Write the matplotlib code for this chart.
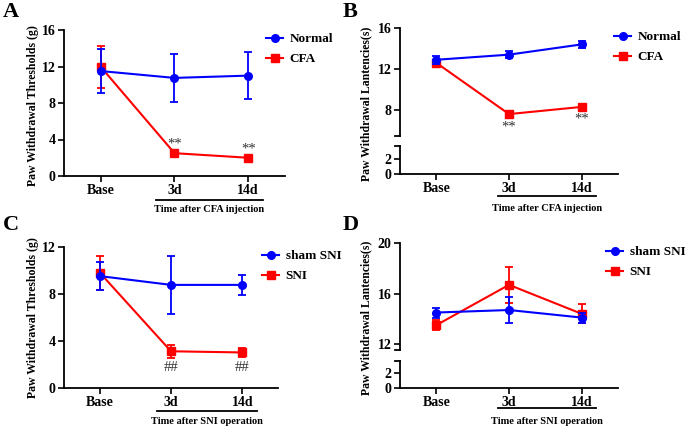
import matplotlib
matplotlib.use('Agg')
import matplotlib.pyplot as plt
import matplotlib.transforms as mtransforms

plt.rcParams['font.family'] = ['Liberation Serif', 'DejaVu Serif']
plt.rcParams['font.weight'] = 'bold'
plt.rcParams['axes.linewidth'] = 1.3

# x categories
time_labels = ['Base', '3d', '14d']
x = [0, 1, 2]

# A: mechanical thresholds, CFA model
a_normal = [11.5, 10.75, 11.0]
a_normal_err = [2.4, 2.65, 2.6]
a_cfa = [11.95, 2.5, 2.0]
a_cfa_err = [2.3, 0.2, 0.15]
a_marks = ['', '**', '**']
a_mark_y = [0, 3.55, 3.0]

# B: thermal latencies, CFA model
b_normal = [12.9, 13.4, 14.4]
b_normal_err = [0.4, 0.35, 0.35]
b_cfa = [12.6, 7.6, 8.3]
b_cfa_err = [0.2, 0.12, 0.15]
b_marks = ['', '**', '**']
b_mark_y = [0, 6.3, 7.1]

# C: mechanical thresholds, SNI model
c_sham = [9.5, 8.75, 8.75]
c_sham_err = [1.2, 2.5, 0.85]
c_sni = [9.8, 3.1, 3.0]
c_sni_err = [1.45, 0.55, 0.35]
c_marks = ['', '##', '##']
c_mark_y = [0, 1.75, 1.75]

# D: thermal latencies, SNI model
d_sham = [14.5, 14.7, 14.1]
d_sham_err = [0.4, 1.0, 0.4]
d_sni = [13.5, 16.7, 14.4]
d_sni_err = [0.4, 1.45, 0.75]

W, H = 685, 428
fig = plt.figure(figsize=(W / 100, H / 100), dpi=100)


def box(l, t, r, b):
    return [l / W, 1 - b / H, (r - l) / W, (b - t) / H]


def style(ax, bottom=True):
    ax.spines['top'].set_visible(False)
    ax.spines['right'].set_visible(False)
    ax.tick_params(axis='both', direction='out', length=4, width=1.2,
                   labelsize=10, pad=2)
    ax.set_xlim(-0.5, 2.5)
    if bottom:
        ax.set_xticks(x)
        ax.set_xticklabels(time_labels, fontsize=10, fontweight='bold')
    else:
        ax.spines['bottom'].set_visible(False)
        ax.set_xticks([])
    for lab in ax.get_yticklabels():
        lab.set_fontweight('bold')


def draw(ax, y1, e1, y2, e2):
    red = ax.errorbar(x, y2, yerr=e2, color='#ff0000', marker='s', ms=5.5,
                      lw=1.5, capsize=3, elinewidth=1.3, capthick=1.3,
                      zorder=3, clip_on=False)
    blue = ax.errorbar(x, y1, yerr=e1, color='#0000ff', marker='o', ms=5.5,
                       lw=1.5, capsize=3, elinewidth=1.3, capthick=1.3,
                       zorder=4, clip_on=False)
    return blue, red


def legend(ax, handles, names, left, top):
    ax.legend([h[0] for h in handles], names, loc='upper left',
              bbox_to_anchor=(left / W, 1 - top / H),
              bbox_transform=fig.transFigure, frameon=False,
              borderaxespad=0, borderpad=0, handlelength=1.3,
              handletextpad=0.5, labelspacing=0.6,
              prop={'weight': 'bold', 'size': 9.5})


def xnote(ax, text, x0, x1, y_line, y_text):
    tr = mtransforms.blended_transform_factory(ax.transData, fig.transFigure)
    ax.plot([x0, x1], [1 - y_line / H] * 2, color='black', lw=1.3,
            transform=tr, clip_on=False)
    ax.text((x0 + x1) / 2, 1 - y_text / H, text, transform=tr,
            ha='center', va='center', fontsize=7.5, fontweight='bold')


def ylabel(text, xp, yp):
    fig.text(xp / W, 1 - yp / H, text, rotation=90, ha='center',
             va='center', fontsize=8.5, fontweight='bold')


def marks(ax, labels, ys):
    for xi, lab, yi in zip(x, labels, ys):
        if lab:
            ax.text(xi, yi, lab, ha='center', va='center', fontsize=10.5,
                    fontweight='normal', color='#333333')


def break_marks(upper, lower):
    upper.plot([-0.022, 0], [0, 0], color='black', lw=1.3,
               transform=upper.transAxes, clip_on=False)
    lower.plot([-0.022, 0], [1, 1], color='black', lw=1.3,
               transform=lower.transAxes, clip_on=False)


# ---- A ----
axA = fig.add_axes(box(64, 30, 285, 176))
style(axA)
axA.set_ylim(0, 16)
axA.set_yticks([0, 4, 8, 12, 16])
hA = draw(axA, a_normal, a_normal_err, a_cfa, a_cfa_err)
marks(axA, a_marks, a_mark_y)
legend(axA, hA, ['Normal', 'CFA'], 266, 33)
xnote(axA, 'Time after CFA injection', 0.75, 2.2, 199.5, 209)
ylabel('Paw Withdrawal Thresholds (g)', 33, 106)
fig.text(3 / W, 1 - 12 / H, 'A', fontsize=16, fontweight='bold', va='center')

# ---- B ----
axBu = fig.add_axes(box(400, 28, 618, 135.6))
axBl = fig.add_axes(box(400, 146, 618, 173.7))
style(axBu, bottom=False)
style(axBl)
axBu.set_ylim(5.5, 16)
axBu.set_yticks([8, 12, 16])
axBl.set_ylim(0, 3.75)
axBl.set_yticks([0, 2])
hB = draw(axBu, b_normal, b_normal_err, b_cfa, b_cfa_err)
marks(axBu, b_marks, b_mark_y)
break_marks(axBu, axBl)
legend(axBu, hB, ['Normal', 'CFA'], 614, 31)
xnote(axBl, 'Time after CFA injection', 0.85, 2.2, 195.7, 208)
ylabel('Paw Withdrawal Lantencies(s)', 366, 104)
fig.text(343 / W, 1 - 12 / H, 'B', fontsize=16, fontweight='bold', va='center')

# ---- C ----
axC = fig.add_axes(box(64, 246.7, 278, 387.7))
style(axC)
axC.set_ylim(0, 12)
axC.set_yticks([0, 4, 8, 12])
hC = draw(axC, c_sham, c_sham_err, c_sni, c_sni_err)
marks(axC, c_marks, c_mark_y)
legend(axC, hC, ['sham SNI', 'SNI'], 262, 250)
xnote(axC, 'Time after SNI operation', 0.8, 2.2, 411, 422)
ylabel('Paw Withdrawal Thresholds (g)', 33, 318)
fig.text(3 / W, 1 - 225 / H, 'C', fontsize=16, fontweight='bold', va='center')

# ---- D ----
axDu = fig.add_axes(box(400, 243.3, 618, 350.3))
axDl = fig.add_axes(box(400, 360.7, 618, 387.7))
style(axDu, bottom=False)
style(axDl)
axDu.set_ylim(11.5, 20)
axDu.set_yticks([12, 16, 20])
axDl.set_ylim(0, 3.7)
axDl.set_yticks([0, 2])
hD = draw(axDu, d_sham, d_sham_err, d_sni, d_sni_err)
break_marks(axDu, axDl)
legend(axDu, hD, ['sham SNI', 'SNI'], 606, 246)
xnote(axDl, 'Time after SNI operation', 0.85, 2.2, 408, 422)
ylabel('Paw Withdrawal Lantencies(s)', 366, 318)
fig.text(343 / W, 1 - 225 / H, 'D', fontsize=16, fontweight='bold', va='center')

fig.savefig('out.png', dpi=100)
